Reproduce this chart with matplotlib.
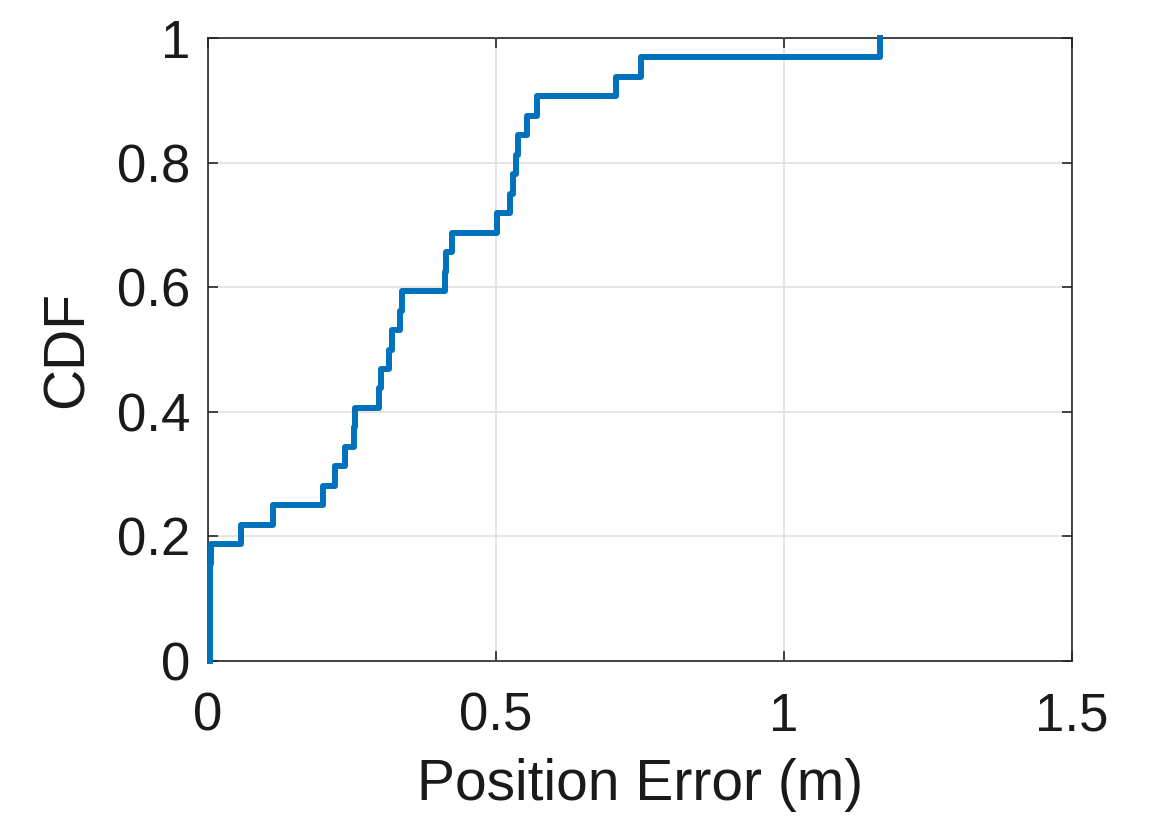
import numpy as np
import matplotlib.pyplot as plt
from matplotlib.ticker import FormatStrFormatter

# position errors (m) (32 samples)
errors = [0.003, 0.003, 0.003, 0.003, 0.003, 0.006,
          0.058, 0.113, 0.200, 0.220, 0.238, 0.253, 0.256,
          0.296, 0.300, 0.315, 0.319, 0.334, 0.337,
          0.411, 0.414, 0.423, 0.501, 0.525, 0.530, 0.534,
          0.538, 0.553, 0.571, 0.708, 0.752, 1.167]
x_ticks = [0, 0.5, 1, 1.5]
y_ticks = [0, 0.2, 0.4, 0.6, 0.8, 1]

plt.rcParams['font.family'] = ['Liberation Sans', 'DejaVu Sans']

e = np.sort(np.array(errors))
n = len(e)
xs = np.concatenate([[e[0]], e])
ys = np.arange(n + 1) / n

fig = plt.figure(figsize=(11.53, 8.25), dpi=100)
ax = fig.add_axes([0.1804, 0.1988, 0.7494, 0.7551])
ax.step(xs, ys, where='post', color='#0072BD', lw=4.3, clip_on=False, zorder=3)

ax.set_xlim(0, 1.5)
ax.set_ylim(0, 1)
ax.set_xticks(x_ticks)
ax.set_yticks(y_ticks)
ax.xaxis.set_major_formatter(FormatStrFormatter('%g'))
ax.yaxis.set_major_formatter(FormatStrFormatter('%g'))
ax.grid(True, color='#e0e0e0', lw=1.2)
ax.set_axisbelow(True)
for s in ax.spines.values():
    s.set_color('#262626')
    s.set_linewidth(1.2)
ax.tick_params(direction='in', length=7, width=1.2, color='#262626',
               labelsize=38, labelcolor='#1a1a1a', top=True, right=True,
               labeltop=False, labelright=False)
ax.tick_params(axis='x', pad=22)
ax.tick_params(axis='y', pad=13)
ax.set_xlabel('Position Error (m)', fontsize=41, color='#1a1a1a', labelpad=12)
ax.set_ylabel('CDF', fontsize=41, color='#1a1a1a', labelpad=16)

fig.savefig('out.png', dpi=100)
